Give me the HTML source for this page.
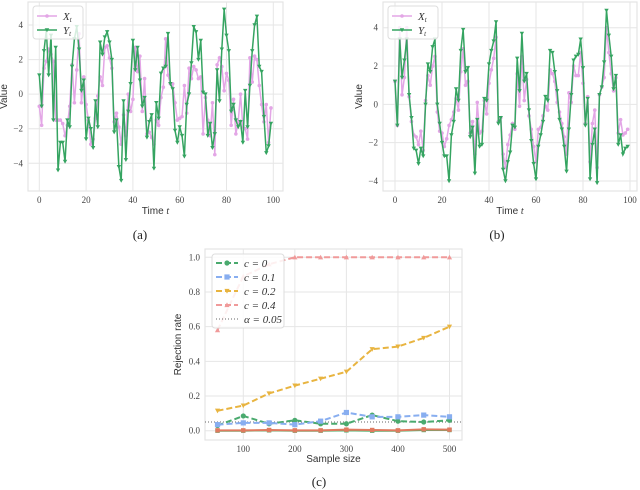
<!DOCTYPE html>
<html><head><meta charset="utf-8">
<style>
html,body{margin:0;padding:0;background:#fff;width:640px;height:490px;overflow:hidden}
svg{display:block}
.tick{font-family:"Liberation Serif",serif;font-size:9px;fill:#444}
.lab{font-family:"Liberation Sans",sans-serif;font-size:10px;fill:#333}
.cap{font-family:"Liberation Serif",serif;font-size:13px;fill:#222}
.leg{font-family:"Liberation Serif",serif;font-size:11px;fill:#333;font-style:italic}
</style></head>
<body>
<svg id="fig" width="640" height="490" xmlns="http://www.w3.org/2000/svg"></svg>
<script>
const aX=[-0.7,-1.8,1.5,1.9,2.6,2.3,1.9,-1.5,-1.5,-1.5,-1.7,-2.4,-1.8,-0.7,1.7,-0.5,1.4,3.5,-0.5,1.0,-0.6,-1.5,-2.9,-2.6,-1.4,-0.1,1.0,0.5,2.7,2.8,2.1,1.5,-1.6,-1.1,-1.9,-2.9,-1.2,-2.4,0.0,-1.0,-0.3,2.7,1.3,2.2,-1.0,0.9,-2.3,-2.2,-2.5,-2.9,-1.5,-1.8,-0.2,0.4,3.2,1.1,0.6,0.6,-0.5,-1.5,-1.4,-1.3,0.5,-1.1,1.5,0.9,1.6,1.4,0.9,1.0,-2.3,-0.2,-1.5,-2.4,-0.5,-3.5,1.7,2.1,1.6,0.2,1.2,0.8,-1.8,-0.3,-2.3,-1.6,0.0,-1.9,-2.0,-2.6,2.1,0.7,2.2,2.0,0.5,-0.6,-1.6,-0.6,-2.8,-0.8];
const aY=[1.1,-0.7,2.5,3.7,1.1,3.4,-1.5,2.7,-4.4,-2.8,-2.8,-3.9,-1.5,-1.9,1.6,3.2,3.9,2.6,0.2,0.8,-2.6,-1.4,-2.0,-3.1,-0.4,-1.9,3.0,2.3,3.3,3.6,3.0,2.0,-2.2,-1.5,-4.2,-5.0,-0.4,-3.8,-1.0,0.6,3.1,1.4,2.7,0.8,-0.7,-0.2,-2.5,-1.6,-1.2,-4.3,-0.5,-1.4,1.2,1.5,1.6,3.5,0.6,0.3,-2.1,-2.8,-1.9,-2.4,-3.6,-0.6,0.0,1.8,3.9,3.6,2.0,3.1,0.1,0.0,-2.4,-1.7,-3.1,-2.3,1.4,-0.4,2.6,4.9,3.4,2.5,-1.0,-0.6,-1.5,-1.9,-1.6,-2.8,0.2,-1.9,0.5,2.5,4.0,4.5,1.6,1.3,-1.3,-3.4,-3.0,-1.7];
const bX=[1.2,-1.1,4.0,0.5,1.4,4.0,0.4,-0.9,-1.6,-1.7,-2.1,-1.4,-2.4,0.2,1.5,1.0,2.0,2.5,-0.4,-1.4,-1.5,-2.2,-1.8,-1.1,-0.8,-0.4,0.3,-0.3,1.7,2.9,1.0,1.2,-1.5,-0.9,-2.6,0.1,-1.5,-1.4,0.2,-0.5,1.1,1.8,2.4,3.5,-0.9,-0.7,-2.6,-3.3,-2.1,-1.6,-1.0,-1.3,1.6,-0.1,2.5,0.2,1.3,-0.6,-1.3,-2.2,-3.0,-1.3,-1.2,-0.6,-0.1,-0.3,1.8,1.6,1.2,0.1,-0.4,-1.0,-1.7,-2.6,0.6,0.1,2.0,1.5,1.5,2.7,1.1,-1.0,0.4,-3.0,-1.0,-0.3,-3.3,0.5,0.9,1.4,4.0,2.7,1.6,0.7,1.4,-1.5,-0.8,-1.6,-1.5,-1.3];
const bY=[1.2,-1.1,3.4,1.4,2.3,3.4,0.5,-0.7,-2.3,-2.4,-3.1,-2.3,-2.7,0.0,2.1,1.7,3.0,3.4,0.0,-1.0,-2.0,-2.7,-2.7,-4.0,-1.6,-0.9,0.8,0.2,2.8,3.9,1.7,1.9,-1.7,-1.2,-3.6,-0.8,-2.2,-2.1,0.3,0.2,2.1,2.8,3.3,4.3,-1.0,-0.7,-3.4,-4.0,-3.0,-2.5,-1.1,-1.2,2.4,0.7,3.7,1.2,1.6,-0.3,-1.9,-3.1,-3.9,-2.2,-1.6,-0.9,0.4,0.2,2.8,2.7,1.7,0.7,-0.8,-1.3,-2.2,-3.5,-1.3,0.5,2.3,2.5,2.6,3.4,1.9,-1.1,0.3,-3.9,-2.1,-1.3,-4.1,0.5,0.9,2.2,4.9,3.6,2.5,0.8,1.5,-2.1,-1.6,-2.6,-2.3,-2.2];
const sizes=[50,100,150,200,250,300,350,400,450,500];
const c0=[0.03,0.085,0.04,0.06,0.04,0.04,0.09,0.055,0.05,0.06];
const c1=[0.035,0.045,0.045,0.035,0.055,0.105,0.08,0.08,0.09,0.08];
const c2=[0.115,0.145,0.215,0.26,0.30,0.34,0.47,0.485,0.535,0.60];
const c4=[0.58,0.89,0.96,1.0,1.0,1.0,1.0,1.0,1.0,1.0];
const zeroA=[0.002,0.002,0.004,0.002,0.002,0.006,0.004,0.002,0.008,0.006];
const zeroB=[0.0,0.0,0.002,0.0,0.0,0.002,0.0,0.0,0.004,0.004];
const alphaVal=0.05;
const tTicks=[0,20,40,60,80,100];
const vTicksA=[-4,-2,0,2,4];
const vTicksB=[-4,-2,0,2,4];
const sTicks=[100,200,300,400,500];
const rTicks=[0.0,0.2,0.4,0.6,0.8,1.0];

const NS="http://www.w3.org/2000/svg";
const svg=document.getElementById('fig');
function mk(tag,attrs,parent){const e=document.createElementNS(NS,tag);for(const k in attrs)e.setAttribute(k,attrs[k]);(parent||svg).appendChild(e);return e;}
function txt(x,y,s,cls,anchor,parent){const e=mk('text',{x:x,y:y,class:cls,'text-anchor':anchor||'middle'},parent);e.textContent=s;return e;}
const PINK='#e3a6e6',GREEN='#35a461';

function marker(g,type,x,y,col,r){
  let e;
  if(type==='circle'){e=mk('circle',{cx:x,cy:y,r:r,fill:col},g);}
  else if(type==='square'){e=mk('rect',{x:x-r,y:y-r,width:2*r,height:2*r,fill:col},g);}
  else if(type==='down'){e=mk('polygon',{points:`${x-r},${y-r*0.8} ${x+r},${y-r*0.8} ${x},${y+r}`,fill:col},g);}
  else {e=mk('polygon',{points:`${x-r},${y+r*0.8} ${x+r},${y+r*0.8} ${x},${y-r}`,fill:col},g);}
  
  
}

function tsPlot(name,box,x0,x100,yAt4,yAtM4,xs,ys,vt){
  const g=mk('g',{});
  
  
  const sx=t=>x0+(x100-x0)*t/100;
  const k=(yAtM4-yAt4)/8, z=yAt4+4*k;
  const sy=v=>z-v*k;
  mk('rect',{x:box[0],y:box[1],width:box[2]-box[0],height:box[3]-box[1],fill:'#fff',stroke:'#e4e4e4','stroke-width':1.2},g);
  tTicks.forEach(t=>{mk('line',{x1:sx(t),x2:sx(t),y1:box[1],y2:box[3],stroke:'#e6e6e6','stroke-width':1},g);
    const l=txt(sx(t),box[3]+12,String(t),'tick','middle',g);});
  vt.forEach(v=>{mk('line',{x1:box[0],x2:box[2],y1:sy(v),y2:sy(v),stroke:'#e6e6e6','stroke-width':1},g);
    const l=txt(box[0]-5,sy(v)+3,(v<0?'\u2212':'')+Math.abs(v),'tick','end',g);});
  const px=xs.map((v,i)=>sx(i)+','+sy(v)).join(' ');
  const lx=mk('polyline',{points:px,fill:'none',stroke:PINK,'stroke-width':1.5},g);
  
  xs.forEach((v,i)=>marker(g,'circle',sx(i),sy(v),PINK,1.8));
  const py=ys.map((v,i)=>sx(i)+','+sy(v)).join(' ');
  const ly=mk('polyline',{points:py,fill:'none',stroke:GREEN,'stroke-width':1.5},g);
  
  ys.forEach((v,i)=>marker(g,'down',sx(i),sy(v),GREEN,2.2));
  const xl=txt((box[0]+box[2])/2,box[3]+23,'Time ','lab','middle',g);
  const ti=mk('tspan',{'font-style':'italic','font-family':'Liberation Serif, serif'},xl);ti.textContent='t';
  
  const yl=txt(0,0,'Value','lab','middle',g);
  yl.setAttribute('transform',`translate(${box[0]-21},${(box[1]+box[3])/2}) rotate(-90)`);
  
  // legend
  const lg=mk('g',{},g);
  
  const lx0=box[0]+5;
  mk('rect',{x:lx0,y:box[1]+4,width:50,height:33,rx:3,fill:'rgba(255,255,255,0.8)',stroke:'#ddd'},lg);
  mk('line',{x1:lx0+4,x2:lx0+24,y1:box[1]+14,y2:box[1]+14,stroke:PINK,'stroke-width':1.5},lg);
  marker(lg,'circle',lx0+14,box[1]+14,PINK,1.8);
  mk('line',{x1:lx0+4,x2:lx0+24,y1:box[1]+28,y2:box[1]+28,stroke:GREEN,'stroke-width':1.5},lg);
  marker(lg,'down',lx0+14,box[1]+28,GREEN,2.2);
  const t1=txt(lx0+30,box[1]+18,'X','leg','start',lg);const s1=mk('tspan',{'font-size':'7',dy:'2'},t1);s1.textContent='t';
  
  const t2=txt(lx0+30,box[1]+32,'Y','leg','start',lg);const s2=mk('tspan',{'font-size':'7',dy:'2'},t2);s2.textContent='t';
  
}

tsPlot('chart-a',[28,2,283,191],39.3,273.3,25,163.3,aX,aY,vTicksA);
tsPlot('chart-b',[383,2,637,191],395,630,27.7,181,bX,bY,vTicksB);

// chart c
(function(){
  const g=mk('g',{});
  
  
  const box=[205,249,462,440];
  const sx=s=>243.3+(449.5-243.3)*(s-100)/400;
  const sy=v=>430.7-(430.7-257.3)*v;
  mk('rect',{x:box[0],y:box[1],width:box[2]-box[0],height:box[3]-box[1],fill:'#fff',stroke:'#e4e4e4','stroke-width':1.2},g);
  sTicks.forEach(s=>{mk('line',{x1:sx(s),x2:sx(s),y1:box[1],y2:box[3],stroke:'#e6e6e6'},g);
    const l=txt(sx(s),box[3]+12,String(s),'tick','middle',g);});
  rTicks.forEach(v=>{mk('line',{x1:box[0],x2:box[2],y1:sy(v),y2:sy(v),stroke:'#e6e6e6'},g);
    const l=txt(box[0]-5,sy(v)+3,v.toFixed(1),'tick','end',g);});
  const al=mk('line',{x1:box[0],x2:box[2],y1:sy(alphaVal),y2:sy(alphaVal),stroke:'#666','stroke-width':1,'stroke-dasharray':'1,2'},g);
  
  const series=[[c0,'#4aaa6e','circle','series-c0'],[c1,'#88aef0','square','series-c01'],[c2,'#e8b440','down','series-c02'],[c4,'#f09a9a','up','series-c04']];
  series.forEach(([d,col,m,nm])=>{
    const p=mk('polyline',{points:d.map((v,i)=>sx(sizes[i])+','+sy(v)).join(' '),fill:'none',stroke:col,'stroke-width':2,'stroke-dasharray':'6,3'},g);
    
    d.forEach((v,i)=>marker(g,m,sx(sizes[i]),sy(v),col,2.6));
  });
  [[zeroB,'#52b06e'],[zeroA,'#e07a5f']].forEach(([d,col])=>{
    const p=mk('polyline',{points:d.map((v,i)=>sx(sizes[i])+','+sy(v)).join(' '),fill:'none',stroke:col,'stroke-width':2},g);
    
    d.forEach((v,i)=>marker(g,'square',sx(sizes[i]),sy(v),col,2.2));
  });
  const xl=txt((box[0]+box[2])/2,box[3]+22,'Sample size','lab','middle',g);
  
  const yl=txt(0,0,'Rejection rate','lab','middle',g);
  yl.setAttribute('transform',`translate(${box[0]-24},${(box[1]+box[3])/2}) rotate(-90)`);
  
  const lg=mk('g',{},g);
  
  mk('rect',{x:212,y:254,width:72,height:74,rx:3,fill:'rgba(255,255,255,0.85)',stroke:'#ddd'},lg);
  const items=[['#4aaa6e','circle','c = 0'],['#88aef0','square','c = 0.1'],['#e8b440','down','c = 0.2'],['#f09a9a','up','c = 0.4'],['#666','none','\u03b1 = 0.05']];
  items.forEach(([col,m,lab],i)=>{
    const y=263+i*14;
    mk('line',{x1:216,x2:238,y1:y,y2:y,stroke:col,'stroke-width':m==='none'?1:2,'stroke-dasharray':m==='none'?'1,2':'6,3'},lg);
    if(m!=='none')marker(lg,m,227,y,col,2.6);
    const t=txt(244,y+4,lab,'leg','start',lg);
    
  });
})();

const ca=txt(140,239,'(a)','cap');
const cb=txt(497,239,'(b)','cap');
const cc=txt(319,486,'(c)','cap');
</script>
</body></html>
